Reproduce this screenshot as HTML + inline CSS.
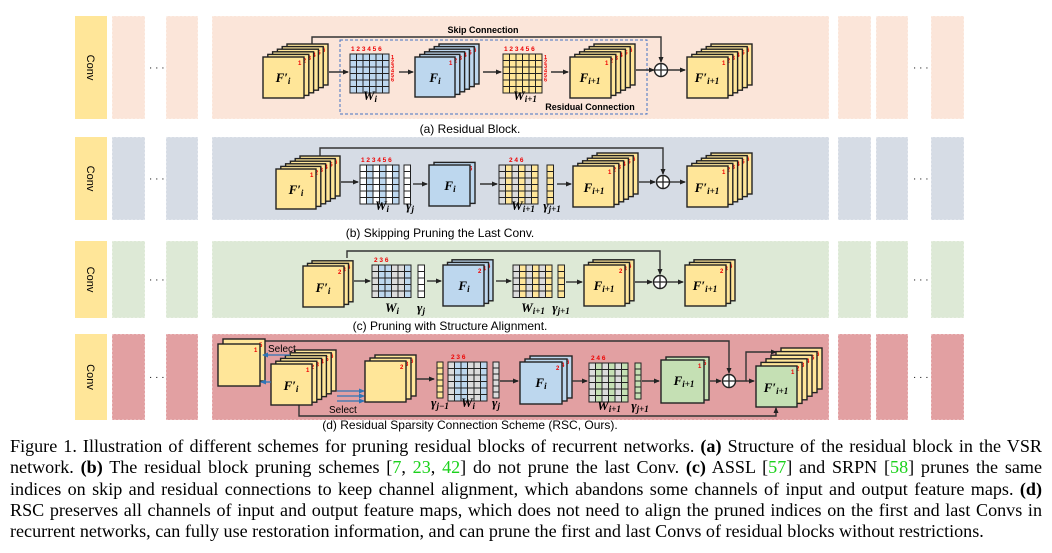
<!DOCTYPE html>
<html><head><meta charset="utf-8">
<style>
body{margin:0;background:#fff;width:1052px;height:553px;overflow:hidden;position:relative}
svg{position:absolute;left:0;top:0}
.cap{position:absolute;left:10px;top:436px;width:1032px;font-family:"Liberation Serif",serif;font-size:18.1px;line-height:21.3px;text-align:justify;color:#000}
.g{color:#1bd11b}
</style></head><body>
<svg id="s" width="1052" height="435" xmlns="http://www.w3.org/2000/svg" font-family="Liberation Sans, sans-serif">
<defs>
<marker id="ar" markerWidth="6" markerHeight="6" refX="5" refY="3" orient="auto" markerUnits="userSpaceOnUse"><path d="M0,0.5 L6,3 L0,5.5z" fill="#222"/></marker>
<marker id="ab" markerWidth="6" markerHeight="6" refX="5" refY="3" orient="auto" markerUnits="userSpaceOnUse"><path d="M0,0.5 L6,3 L0,5.5z" fill="#2e75b6"/></marker>
</defs>
<g id="root"></g>
</svg>
<div class="cap">Figure 1. Illustration of different schemes for pruning residual blocks of recurrent networks. <b>(a)</b> Structure of the residual block in the VSR network. <b>(b)</b> The residual block pruning schemes [<span class="g">7</span>, <span class="g">23</span>, <span class="g">42</span>] do not prune the last Conv. <b>(c)</b> ASSL [<span class="g">57</span>] and SRPN [<span class="g">58</span>] prunes the same indices on skip and residual connections to keep channel alignment, which abandons some channels of input and output feature maps. <b>(d)</b> RSC preserves all channels of input and output feature maps, which does not need to align the pruned indices on the first and last Convs in recurrent networks, can fully use restoration information, and can prune the first and last Convs of residual blocks without restrictions.</div>
<script>
var R=document.getElementById('root'),h='';
var Y='#ffe699',B='#bdd7ee',G='#c5e0b4',GR='#dcdcdc';
function rect(x,y,w,hh,f,st,ex){h+='<rect x="'+x+'" y="'+y+'" width="'+w+'" height="'+hh+'" fill="'+f+'" stroke="'+(st||'none')+'" '+(ex||'')+'/>';}
function txt(x,y,t,sz,ex){h+='<text x="'+x+'" y="'+y+'" font-size="'+sz+'" '+(ex||'')+'>'+t+'</text>';}
function line(pts,ex){h+='<polyline points="'+pts+'" fill="none" stroke="#333" stroke-width="1.4" '+(ex||'')+'/>';}
function stack(x,y,w,n,dx,dy,fills,nums){for(var k=n-1;k>=0;k--){var f=typeof fills=='string'?fills:fills[k];rect(x+k*dx,y-k*dy,w,w,f,'#222','stroke-width="1.4"');if(nums&&nums[k])txt(x+k*dx+w-6,y-k*dy+8,nums[k],6,'fill="#e00" font-weight="bold"');}}
function grid(x,y,c,r,cs,colf){for(var i=0;i<c;i++)for(var j=0;j<r;j++)rect(x+i*cs,y+j*cs,cs,cs,colf(i,j),'#222','stroke-width="1"');}
function circ(x,y){h+='<circle cx="'+x+'" cy="'+y+'" r="6.5" fill="#fff" stroke="#222" stroke-width="1.4"/><path d="M'+(x-6.5)+' '+y+'h13M'+x+' '+(y-6.5)+'v13" stroke="#222" stroke-width="1.3"/>';}
function arr(x1,y1,x2,y2){h+='<line x1="'+x1+'" y1="'+y1+'" x2="'+x2+'" y2="'+y2+'" stroke="#333" stroke-width="1.4" marker-end="url(#ar)"/>';}
function barr(x1,y1,x2,y2){h+='<line x1="'+x1+'" y1="'+y1+'" x2="'+x2+'" y2="'+y2+'" stroke="#2e75b6" stroke-width="1.3" marker-end="url(#ab)"/>';}
function lab(x,y,t,sub,sz){h+='<text x="'+x+'" y="'+y+'" font-family="Liberation Serif, serif" font-style="italic" font-weight="bold" font-size="'+(sz||13)+'" text-anchor="middle">'+t+(sub?'<tspan font-size="9" dy="2">'+sub+'</tspan>':'')+'</text>';}
function strips(y,hh,col){rect(75,y,32,hh,'#ffe699');h+='<text transform="translate(87,'+(y+hh/2)+') rotate(90)" font-size="11" text-anchor="middle">Conv</text>';
[[112,33],[166,32],[212,617],[838,33],[876,32],[931,33]].forEach(function(a){rect(a[0],y,a[1],hh,col,'#fff','stroke-dasharray="2,2" stroke-width="0.6"');});
txt(149,y+hh/2+3,'· · ·',10);txt(913,y+hh/2+3,'· · ·',10);}
strips(16,103,'#fbe5d9');strips(137,83,'#d6dce5');strips(241,77,'#dde9d6');strips(334,86,'#e2a0a2');
var N6=['1','2','3','4','5','6'];
txt(470,133,'(a) Residual Block.',12,'text-anchor="middle"');
txt(440,237,'(b) Skipping Pruning the Last Conv.',12,'text-anchor="middle"');
txt(450,330,'(c) Pruning with Structure Alignment.',12,'text-anchor="middle"');
txt(470,429,'(d) Residual Sparsity Connection Scheme (RSC, Ours).',12,'text-anchor="middle"');
// a
line('312,44 312,37 661,37 661,62','marker-end="url(#ar)"');
rect(340,40,307,74,'none','#4472c4','stroke-dasharray="3,2" stroke-width="1"');
txt(483,33,'Skip Connection',9,'font-weight="bold" text-anchor="middle"');
txt(590,110,'Residual Connection',9,'font-weight="bold" text-anchor="middle"');
stack(263,57,41,6,4.8,2.6,Y,N6);lab(283,82,'F′','i');
arr(329,72,348,72);grid(350,54,6,6,6.5,function(){return B});
txt(351,51,'1 2 3 4 5 6',6.5,'fill="#e00" font-weight="bold"');
for(var i=0;i<6;i++)txt(391,59+i*4.5,i+1,5.5,'fill="#e00" font-weight="bold"');
lab(370,100,'W','i');
arr(399,72,413,72);stack(415,57,40,6,4.8,2.6,B,N6);lab(435,82,'F','i');
arr(483,72,501,72);grid(503,54,6,6,6.5,function(){return Y});
txt(504,51,'1 2 3 4 5 6',6.5,'fill="#e00" font-weight="bold"');
for(var i=0;i<6;i++)txt(544,59+i*4.5,i+1,5.5,'fill="#e00" font-weight="bold"');
lab(525,100,'W','i+1');
arr(551,72,568,72);stack(570,57,41,6,4.8,2.6,Y,N6);lab(590,82,'F','i+1');
arr(636,70,654,70);circ(661,70);arr(668,70,685,70);
stack(687,57,41,6,4.8,2.6,Y,N6);lab(707,82,'F′','i+1');
// b
line('320,156 320,148 663,148 663,174','marker-end="url(#ar)"');
stack(276,169,40,6,4.8,2.6,Y,N6);lab(296,194,'F′','i');
arr(341,182,358,182);grid(360,165,6,6,6.5,function(i){return i%2?B:'#fff'});
txt(361,162,'1 2 3 4 5 6',6.5,'fill="#e00" font-weight="bold"');
grid(404,165,1,6,6.5,function(j){return j%2?B:'#fff'});lab(382,210,'W','i');lab(410,210,'γ','j');
arr(413,184,427,184);stack(429,165,41,2,5,2.6,B,['','6']);lab(450,190,'F','i');
arr(480,184,497,184);grid(499,165,6,6,6.5,function(i,j){return (i==1||i==3||i==5)?Y:GR});
txt(509,162,'2    4    6',6.5,'fill="#e00" font-weight="bold"');
grid(547,165,1,6,6.5,function(){return Y});lab(523,210,'W','i+1');lab(552,210,'γ','j+1');
arr(557,184,571,184);stack(573,166,41,6,4.8,2.6,Y,N6);lab(594,192,'F','i+1');
arr(639,182,655,182);circ(663,182);arr(670,182,685,182);
stack(687,166,41,6,4.8,2.6,Y,N6);lab(707,192,'F′','i+1');
// c
line('347,258 347,251 660,251 660,274','marker-end="url(#ar)"');
stack(303,266,41,3,4.5,2.6,Y,['2','3','6']);lab(323,292,'F′','i');
arr(354,281,370,281);grid(372,265,6,5,6.5,function(i){return (i==1||i==2||i==5)?B:GR});
txt(374,262,'2  3        6',6.5,'fill="#e00" font-weight="bold"');
grid(418,265,1,5,6.5,function(j){return j%2?B:'#fff'});lab(392,312,'W','i');lab(421,312,'γ','j');
arr(427,281,441,281);stack(443,265,41,3,4.5,2.6,B,['2','4','6']);lab(464,290,'F','i');
arr(496,281,511,281);grid(513,265,6,5,6.5,function(i){return (i==1||i==3||i==5)?Y:GR});
grid(558,265,1,5,6.5,function(){return Y});lab(533,312,'W','i+1');lab(561,312,'γ','j+1');
arr(566,282,582,282);stack(584,265,41,3,4.5,2.6,Y,['2','3','6']);lab(604,290,'F','i+1');
arr(635,282,652,282);circ(660,282);arr(667,282,683,282);
stack(685,265,41,3,4.5,2.6,Y,['2','3','6']);lab(705,290,'F′','i+1');
// d
line('264,341 729,341 729,373','marker-end="url(#ar)"');
stack(218,344,42,2,5,5,Y,['1','5']);
line('299,405 299,416 776,416 776,408','marker-end="url(#ar)"');
stack(271,364,41,6,4.8,2.8,Y,N6);lab(291,390,'F′','i');
barr(290,355,263,355);barr(271,382,261,382);
barr(337,391,364,391);barr(337,396,364,396);barr(337,401,364,401);
txt(268,352,'Select',10);txt(329,413,'Select',10);
stack(365,361,41,3,5,3,Y,['2','3','6']);
arr(416,379,434,379);
grid(437,362,1,6,6,function(j){return j<2||j==5?Y:GR});
grid(448,362,6,6,6.5,function(i){return (i==1||i==2||i==5)?B:GR});
txt(451,359,'2  3       6',6.5,'fill="#e00" font-weight="bold"');
grid(493,362,1,6,6,function(j){return j%2?B:GR});
lab(440,407,'γ','j−1');lab(468,407,'W','i');lab(496,407,'γ','j');
arr(500,381,518,381);stack(520,362,42,3,5,3,B,['2','4','6']);lab(541,387,'F','i');
arr(572,381,587,381);grid(589,363,6,6,6.5,function(i){return (i==1||i==3||i==5)?G:GR});
txt(591,360,'2    4    6',6.5,'fill="#e00" font-weight="bold"');
grid(635,363,1,6,6,function(){return G});lab(609,410,'W','i+1');lab(640,410,'γ','j+1');
arr(642,381,659,381);stack(661,360,43,2,5,3,G,['1','5']);lab(684,385,'F','i+1');
arr(710,381,721,381);circ(729,381);
line('736,381 746,381 746,352 776,352','marker-end="url(#ar)"');arr(746,381,754,381);
stack(756,366,41,6,5,3.6,['#c5e0b4',Y,Y,Y,Y,Y],N6);lab(776,392,'F′','i+1');
R.innerHTML=h;
</script>
</body></html>
